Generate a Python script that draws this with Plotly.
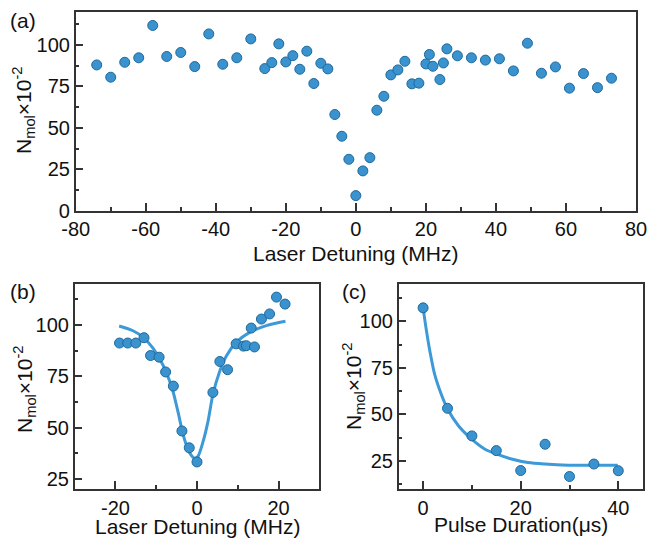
import plotly.graph_objects as go

# ---- (a) wide detuning scan ----
a_detuning = [-74, -70, -66, -62, -58, -54, -50, -46, -42, -38, -34, -30, -26, -24, -22,
              -20, -18, -16, -14, -12, -10, -8, -6, -4, -2, 0, 2, 4, 6, 8, 10, 12, 14, 16,
              18, 20, 21, 22, 24, 25, 26, 29, 33, 37, 41, 45, 49, 53, 57, 61, 65, 69, 73]
a_counts = [87.9, 80.5, 89.5, 92.2, 111.7, 93.0, 95.4, 86.9, 106.6, 88.3, 92.2, 103.6, 85.7,
            89.3, 100.6, 89.7, 93.5, 85.3, 96.2, 76.7, 88.9, 85.5, 58.0, 44.9, 31.0, 9.1,
            24.0, 32.0, 60.6, 69.0, 81.9, 84.9, 90.1, 76.5, 76.9, 88.5, 94.2, 87.1, 79.1,
            89.1, 97.6, 93.4, 92.2, 90.8, 91.6, 84.3, 101.0, 82.9, 86.7, 73.9, 82.7, 74.2, 79.9]
a_xticks = [-80, -60, -40, -20, 0, 20, 40, 60, 80]

# ---- (b) narrow detuning scan with fit ----
b_detuning = [-19, -17, -15, -13, -11.4, -9.3, -7.7, -5.8, -3.7, -1.9, 0, 3.9, 5.6, 7.5,
              9.6, 11.4, 12.1, 13.3, 14.1, 15.8, 17.8, 19.5, 21.6]
b_counts = [91.2, 91.2, 91.2, 93.8, 85.1, 84.3, 77.1, 70.2, 48.3, 40.1, 33.2, 67.1, 82.2,
            78.2, 90.8, 89.7, 89.9, 98.5, 89.3, 102.9, 105.4, 113.6, 110.2]
b_fit_x = [-19.1, -15.7, -13.2, -10.8, -9.1, -7.5, -5.9, -4.6, -3.4, -2.0, -0.6, 0.2, 1.5,
           2.7, 3.9, 5.6, 7.2, 9.6, 12.9, 17.0, 21.7]
b_fit_y = [99.5, 97.2, 94.0, 88.7, 83.3, 76.8, 67.7, 57.1, 46.5, 38.3, 35.0, 35.8, 43.2,
           53.0, 66.1, 77.6, 84.9, 91.5, 96.4, 99.7, 101.8]
b_xticks = [-20, 0, 20]

# ---- (c) pulse-duration scan with fit ----
c_duration = [0, 5, 10, 15, 20, 25, 30, 35, 40]
c_counts = [107.2, 53.3, 38.5, 30.6, 19.9, 34.0, 16.7, 23.4, 19.8]
c_fit_x = [0, 0.7, 1.4, 2.4, 3.8, 5, 7.2, 9.9, 12.6, 15, 18.1, 21.5, 24.9, 29.7, 35.2, 39.9]
c_fit_y = [107.2, 94.6, 83.8, 71.2, 60.3, 53.1, 44.1, 36.9, 31.5, 28.8, 26.1, 24.2, 23.4,
           22.8, 22.8, 22.8]
c_xticks = [0, 20, 40]

W, H = 648, 538
FONT = "Liberation Sans, Arial, Helvetica, sans-serif"
AX = "#333333"
DOT = "#3a93cf"
DOT_EDGE = "#1d6a9c"
FIT = "#3d9ad8"
YTITLE = "N<sub>mol</sub>×10<sup>-2</sup>"
XTITLE_DET = "Laser Detuning (MHz)"
XTITLE_PULSE = "Pulse Duration(μs)"


def px_x(p):
    return p / W


def px_y(p):
    return 1 - p / H


def marker():
    return dict(size=10, color=DOT, line=dict(color=DOT_EDGE, width=1))


def tick_text(vals):
    # plain hyphen for negatives
    return [str(v) for v in vals]


def base_axis(domain, rng, anchor, minor_dtick):
    return dict(
        domain=domain, range=rng, anchor=anchor, automargin=False,
        showline=True, linecolor=AX, linewidth=1.5, mirror=True,
        ticks="inside", ticklen=8, tickwidth=1.5, tickcolor=AX,
        minor=dict(ticks="inside", ticklen=4, tickwidth=1.5, tickcolor=AX,
                   dtick=minor_dtick, tick0=0),
        showgrid=False, zeroline=False,
        tickfont=dict(family=FONT, size=20, color="#111111"),
    )


def x_axis(domain, rng, anchor, ticks):
    ax = base_axis(domain, rng, anchor, 10)
    ax.update(tickmode="array", tickvals=ticks, ticktext=tick_text(ticks))
    return ax


def y_axis(domain, rng, anchor):
    ax = base_axis(domain, rng, anchor, 12.5)
    ax.update(dtick=25, tick0=0)
    return ax


fig = go.Figure()
fig.add_trace(go.Scatter(x=a_detuning, y=a_counts, mode="markers", marker=marker(),
                         xaxis="x", yaxis="y"))
fig.add_trace(go.Scatter(x=b_fit_x, y=b_fit_y, mode="lines",
                         line=dict(color=FIT, width=3, shape="spline", smoothing=0.8),
                         xaxis="x2", yaxis="y2"))
fig.add_trace(go.Scatter(x=b_detuning, y=b_counts, mode="markers", marker=marker(),
                         xaxis="x2", yaxis="y2"))
fig.add_trace(go.Scatter(x=c_fit_x, y=c_fit_y, mode="lines",
                         line=dict(color=FIT, width=3, shape="spline", smoothing=0.8),
                         xaxis="x3", yaxis="y3"))
fig.add_trace(go.Scatter(x=c_duration, y=c_counts, mode="markers", marker=marker(),
                         xaxis="x3", yaxis="y3"))

a_dom_x = [px_x(75.7), px_x(636)]
a_dom_y = [px_y(210.7), px_y(11.7)]
b_dom_x = [px_x(74.7), px_x(319.3)]
c_dom_x = [px_x(398.7), px_x(642.7)]
bc_dom_y = [px_y(489), px_y(284)]

fig.update_layout(
    width=W, height=H,
    margin=dict(l=0, r=0, t=0, b=0),
    paper_bgcolor="white", plot_bgcolor="white",
    showlegend=False,
    font=dict(family=FONT, color="#111111"),
    xaxis=x_axis(a_dom_x, [-80, 80], "y", a_xticks),
    yaxis=y_axis(a_dom_y, [0, 120], "x"),
    xaxis2=x_axis(b_dom_x, [-30, 30], "y2", b_xticks),
    yaxis2=y_axis(bc_dom_y, [20, 120], "x2"),
    xaxis3=x_axis(c_dom_x, [-5, 45], "y3", c_xticks),
    yaxis3=y_axis(bc_dom_y, [10, 120], "x3"),
)


def label(text, x, y, xanchor="center", angle=0):
    fig.add_annotation(text=text, x=px_x(x), y=px_y(y), xref="paper", yref="paper",
                       xanchor=xanchor, yanchor="middle", textangle=angle,
                       showarrow=False,
                       font=dict(family=FONT, size=21, color="#111111"))


# panel letters
for text, x, y in [("(a)", 8, 21), ("(b)", 8, 291), ("(c)", 340, 291)]:
    label(text, x, y, xanchor="left")

# x-axis titles
label(XTITLE_DET, 355.5, 253)
label(XTITLE_DET, 197.5, 526.5)
label(XTITLE_PULSE, 520.5, 524.5)

# rotated y-axis titles
for x, y in [(23, 110), (24, 389), (353, 386)]:
    label(YTITLE, x, y, angle=-90)

fig.write_html("out.html")
